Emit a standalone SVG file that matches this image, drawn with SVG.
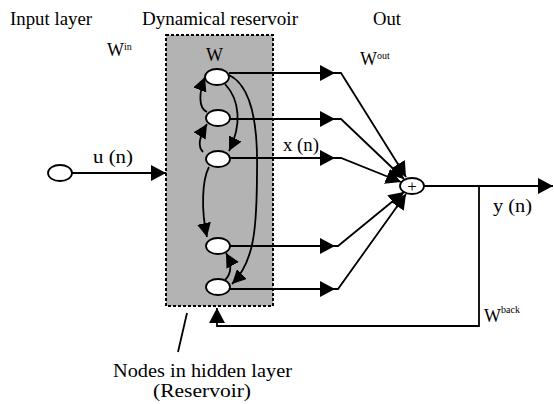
<svg xmlns="http://www.w3.org/2000/svg" width="554" height="404" viewBox="0 0 554 404">
<style>
text{font-family:"Liberation Serif","Times New Roman",serif;fill:#000}
.lbl{font-size:18px}
.w{font-size:18px}
.sup{font-size:10px}
.ln{fill:none;stroke:#000;stroke-width:1.8}
.nd{fill:#fff;stroke:#000;stroke-width:1.8}
</style>
<defs>
<marker id="arr" markerUnits="userSpaceOnUse" markerWidth="16" markerHeight="16" refX="15" refY="8" orient="auto">
<path d="M0,0 L15,8 L0,16 z" fill="#000"/>
</marker>
<marker id="arrs" markerUnits="userSpaceOnUse" markerWidth="14" markerHeight="14" refX="14" refY="7" orient="auto">
<path d="M0,0 L14,7 L0,14 z" fill="#000"/>
</marker>
</defs>
<rect width="554" height="404" fill="#fff"/>

<g id="reservoir">
<rect x="166" y="35" width="107" height="271" fill="#b3b3b3" stroke="#000" stroke-width="2" stroke-dasharray="3,2"/>
</g>

<g id="connectors">
<path class="ln" d="M72,173 H166" marker-end="url(#arr)"/>
<path class="ln" d="M207,112 C198,108 199,92 205,77" marker-end="url(#arrs)"/>
<path class="ln" d="M203,152 C198,147 199,137 207,124" marker-end="url(#arrs)"/>
<path class="ln" d="M225,84 C240,100 242,125 229,151" marker-end="url(#arrs)"/>
<path class="ln" d="M229,75 C250,85 258,120 257,170 C257,230 254,262 232,284" marker-end="url(#arrs)"/>
<path class="ln" d="M209,167 C202,180 201,210 207,237" marker-end="url(#arrs)"/>
<path class="ln" d="M225,280 C231,274 233,266 226,253" marker-end="url(#arrs)"/>
<path class="ln" d="M229,73 H335" marker-end="url(#arr)"/>
<path class="ln" d="M335,73 H341 L406,177" marker-end="url(#arr)"/>
<path class="ln" d="M229,119 H335" marker-end="url(#arr)"/>
<path class="ln" d="M335,119 H341 L404,179" marker-end="url(#arr)"/>
<path class="ln" d="M229,158 H335" marker-end="url(#arr)"/>
<path class="ln" d="M335,158 H341 L401,182" marker-end="url(#arr)"/>
<path class="ln" d="M229,246 H335" marker-end="url(#arr)"/>
<path class="ln" d="M335,246 H338 L404,192" marker-end="url(#arr)"/>
<path class="ln" d="M229,289 H335" marker-end="url(#arr)"/>
<path class="ln" d="M335,289 H338 L406,194" marker-end="url(#arr)"/>
<path class="ln" d="M424,186 H553" marker-end="url(#arr)"/>
<path class="ln" d="M479,186 V326 H217 V308" marker-end="url(#arr)"/>
<path class="ln" d="M187,313 L178,352"/>
</g>

<g id="input-node"><ellipse class="nd" cx="60" cy="173" rx="12" ry="8"/></g>
<g id="node1"><ellipse class="nd" cx="217" cy="77" rx="12" ry="8"/></g>
<g id="node2"><ellipse class="nd" cx="218" cy="118" rx="12" ry="8"/></g>
<g id="node3"><ellipse class="nd" cx="218" cy="159" rx="12" ry="8"/></g>
<g id="node4"><ellipse class="nd" cx="218" cy="246" rx="12" ry="8"/></g>
<g id="node5"><ellipse class="nd" cx="218" cy="287" rx="12" ry="8"/></g>
<g id="sum"><ellipse class="nd" cx="412" cy="186" rx="12" ry="8"/>
<text x="412" y="191.5" font-size="17" text-anchor="middle">+</text></g>

<g id="labels">
<text class="lbl" x="10" y="25" textLength="82" lengthAdjust="spacingAndGlyphs">Input layer</text>
<text class="lbl" x="142" y="25" textLength="156" lengthAdjust="spacingAndGlyphs">Dynamical reservoir</text>
<text class="lbl" x="373" y="25" textLength="28" lengthAdjust="spacingAndGlyphs">Out</text>
<text class="w" x="107" y="56">W<tspan class="sup" dy="-6">in</tspan></text>
<text class="w" x="206" y="61">W</text>
<text class="w" x="360" y="65">W<tspan class="sup" dy="-6">out</tspan></text>
<text class="w" x="484" y="322">W<tspan class="sup" dy="-9">back</tspan></text>
<text class="lbl" x="93" y="163" textLength="40" lengthAdjust="spacingAndGlyphs">u (n)</text>
<text class="lbl" x="283" y="151" textLength="36" lengthAdjust="spacingAndGlyphs">x (n)</text>
<text class="lbl" x="493" y="212" textLength="39" lengthAdjust="spacingAndGlyphs">y (n)</text>
<text x="113" y="377" font-size="19" textLength="179" lengthAdjust="spacingAndGlyphs">Nodes in hidden layer</text>
<text x="153" y="397" font-size="19" textLength="98" lengthAdjust="spacingAndGlyphs">(Reservoir)</text>
</g>
</svg>
